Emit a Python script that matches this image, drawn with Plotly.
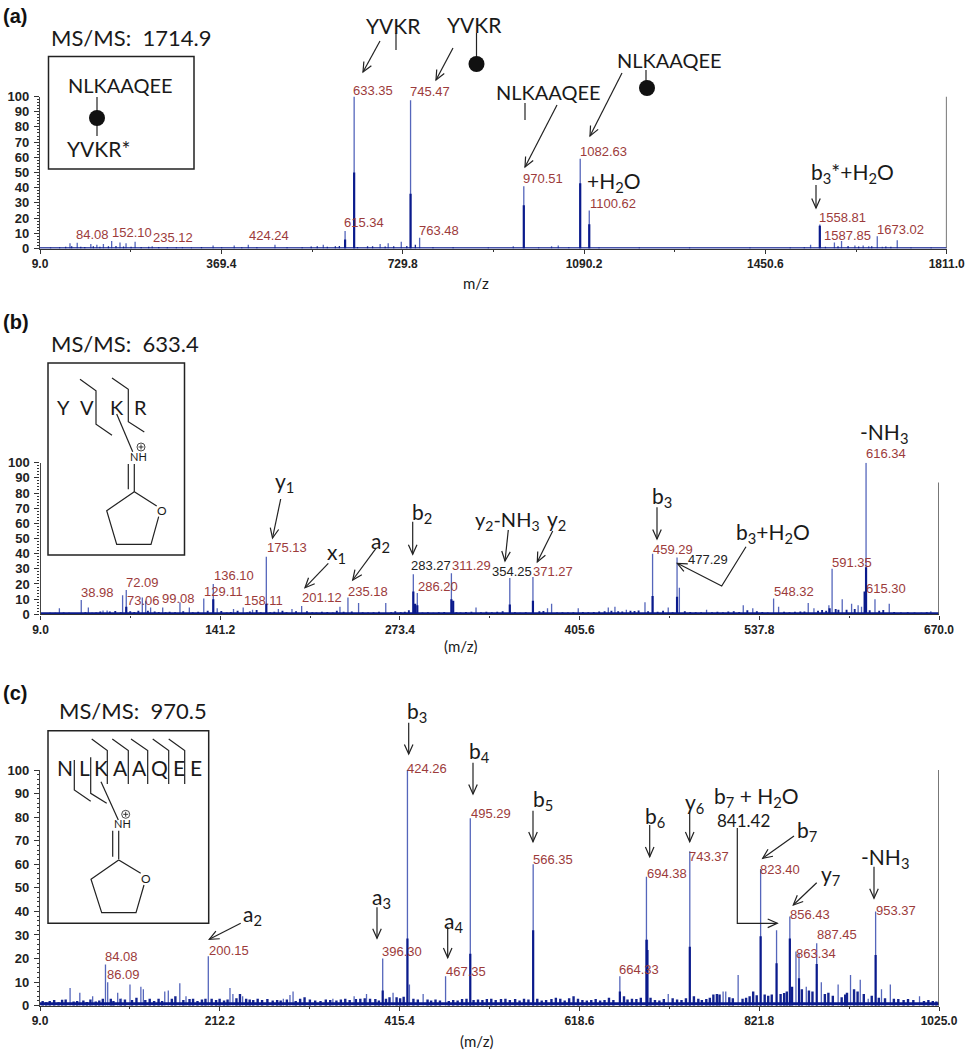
import plotly.graph_objects as go

W, H = 967, 1050

# ---------- panel (a) data ----------
a_mz = [68.6, 83.0, 110, 122, 135, 151.4, 168, 180, 198, 232, 292, 353, 395, 423, 476, 572, 615.34, 633.35, 685, 701, 727, 745.47, 763.48,
        949.6, 970.51, 1025.7, 1039, 1060, 1082.63, 1100.62, 1540.5, 1558.81, 1587.85, 1602, 1628.6, 1645, 1656, 1673.02, 1683, 1712.7]
a_int = [3.5, 3.8, 3, 2.5, 3, 5, 4, 3.5, 4.5, 1.5, 1, 2, 2, 2.5, 2.5, 2.5, 11.5, 100, 3, 3.5, 4.5, 97.5, 7,
         1.5, 41, 1.5, 2, 1, 59, 25, 2.5, 15.8, 4, 5, 2, 2, 1.5, 8, 1.2, 5.5]
a_core_mz = [615.34, 633.35, 745.47, 970.51, 1082.63, 1100.62, 1558.81]
a_core_int = [6, 50, 36, 28.5, 43, 16, 15]
a_grass_mz = [30, 48, 60, 72, 90, 98, 115, 128, 145, 160, 175, 190, 210, 225, 245, 262, 280, 310, 330, 370, 410, 440, 500, 530, 548, 560, 580,
              596, 604, 640, 660, 670, 695, 712, 738, 755, 790, 830, 900, 1000, 1120, 1200, 1300, 1420, 1500, 1528, 1570, 1595, 1615, 1636, 1662, 1690, 1700, 1740, 1780]
a_grass_int = [.6, .8, 1.2, 1.5, 1.2, 1, 1.4, 1.2, 1.5, 1.6, 1.3, 1.2, 1, 1.1, 1, .9, .8, .7, 1, .9, .8, .8, .8, .9, 1.3, 1.5, 1.2,
               1.4, 1.6, 1, 1.4, 1.5, 1.3, 1.5, 1.6, 2.5, .8, .8, .6, .7, .6, .6, .6, .6, .7, .9, 1.2, 1.5, 1.6, 1.3, 1.4, 1.3, 1.2, .7, .6]

# ---------- panel (b) data ----------
b_mz = [22.9, 38.98, 44.2, 55, 58, 69.4, 72.09, 83.9, 86.4, 90, 98.9, 111.6, 118.5, 129.11, 136.10, 139, 151, 158.11, 165, 175.13, 184, 194, 201.12,
        229.3, 235.18, 243, 263, 283.27, 286.20, 311.29, 329.4, 354.25, 371.27, 382, 385, 404.6, 426.7, 431.6, 440, 453.7, 459.29, 470.8, 477.29, 479,
        499, 526, 533, 548.32, 552, 573.8, 578, 589, 591.35, 598.8, 605.7, 610.5, 613, 616.34, 622.9, 633.4, 664]
b_int = [4, 9.5, 4.5, 2.5, 2.5, 12.5, 16, 11, 9, 4.5, 4.5, 8, 4.5, 10.5, 20, 4, 3.5, 4.5, 3, 38, 3.5, 3.5, 5.5,
         5, 11, 7.5, 7.5, 26.5, 14, 27, 4.5, 24, 24.6, 4, 7, 4, 4.5, 5, 3, 8, 40, 4.5, 37.4, 17.5,
         3, 6, 4, 10.5, 5, 7.5, 4, 6, 30, 10, 7, 6, 5, 100, 10, 7, 2]
b_core_mz = [72.09, 136.10, 175.13, 283.27, 284.6, 286.20, 311.29, 312.6, 354.25, 371.27, 459.29, 477.29, 589.5, 615.30, 616.34]
b_core_int = [5, 10, 7, 15, 7, 6, 10, 9, 6.5, 9, 12, 11.6, 4, 15, 31]
b_grass_mz = [12, 16, 20, 26, 30, 34, 42, 47, 50, 53, 60, 64, 68, 75, 78, 81, 88, 93, 96, 101, 104, 108, 114, 121, 125, 132, 142, 146, 149, 154, 161, 163, 168, 171,
              178, 181, 187, 190, 197, 205, 209, 212, 216, 220, 224, 227, 232, 238, 246, 250, 254, 258, 267, 270, 274, 277, 280, 290, 294, 298, 302, 306, 315, 318, 322, 326,
              333, 337, 341, 345, 349, 358, 362, 366, 376, 379, 389, 393, 397, 401, 408, 412, 416, 420, 424, 429, 434, 437, 443, 446, 449, 456, 463, 467, 474, 483, 487, 491,
              495, 503, 507, 511, 515, 519, 523, 529, 536, 540, 544, 556, 560, 564, 568, 571, 581, 584, 587, 594, 596, 602, 608, 619, 626, 629, 637, 642, 647, 652, 657, 661, 667]
b_grass_int = [.9, 1.1, 1, 1.2, 1, .9, 1.3, 1, 1.2, 1.8, 1.9, 2.2, 1.3, 2, 1.5, 2.4, 2.3, 1.8, 1.5, 1.4, 1.6, 1.3, 2, 1.4, 1.6, 2.4, 2.2, 1.2, 1.5, 2.4, 1.2, 1.8, 2.8, 1.4,
               1.3, 1.6, 2.3, 1.4, 2, 2, 1.4, 1.2, 1.6, 1.5, 1.2, 2.4, 1.6, 1.8, 1.4, 1.2, 1.3, 1.6, 1.4, 2, 1.3, 1.6, 2.6, 1.2, 1.3, 1.1, 1.3, 1.5, 1.4, 1.2, 1.5, 1.6,
               1.4, 1.6, 1.3, 1.6, 2, 1.4, 1.1, 1.3, 2, 2.2, 1.2, 1.3, 1.2, 1.4, 1.5, 1.4, 1.5, 1.8, 2, 2.4, 2, 1.9, 2.3, 2.2, 2.5, 2, 1.6, 2.4, 1.4, 2, 1.5, 1.3,
               1.4, 1.4, 1.6, 1.3, 1.8, 2, 1.5, 2.6, 2, 1.5, 1.2, 1.6, 1.4, 1.6, 1.8, 1.9, 2.4, 2.8, 2.4, 3.5, 3, 3, 3.5, 2.6, 2.4, 2.8, 1.5, 1.2, 1.3, 1.2, 1, 1.4, .9]

# ---------- panel (c) data ----------
c_mz = [43, 54, 68.5, 83, 85.5, 96.8, 101, 110.7, 123, 125.8, 150, 154, 167, 174, 199.2, 223.7, 227, 238, 284, 291.5, 295, 340, 364, 378, 396.30, 408, 424.26, 426.5, 442, 467.35, 495.29,
        566.35, 664.33, 694.38, 695.5, 719, 743.37, 781, 784, 798, 823.4, 841.42, 856.43, 863.34, 866.8, 875, 886.8, 892, 911, 925, 936, 945, 953.37, 960, 970, 1003]
c_int = [7.5, 5.5, 4, 17.5, 10, 5.5, 3, 9, 8, 7, 6, 6.5, 9.5, 4, 21, 7.5, 5, 4, 3, 4.5, 6, 3, 4, 5, 20, 5.5, 100, 9, 5, 12.5, 79.5,
         60, 12.5, 54.7, 28, 5, 65.5, 6, 6, 13, 58, 32, 37.8, 23, 22.5, 8, 26.5, 10, 9, 13, 11, 3, 40, 7, 9, 4]
c_core_mz = [396.30, 424.26, 495.29, 566.35, 664.33, 694.38, 695.5, 743.37, 823.4, 841.42, 856.43, 859, 866.8, 886.8, 953.37]
c_core_int = [6.5, 28.5, 22, 32, 6, 28, 23.6, 25, 29.5, 18, 28.5, 8, 11.6, 17.7, 21.5]
c_grass_mz = [12, 16, 20, 25, 30, 34, 38, 47, 51, 58, 62, 66, 72, 76, 80, 89, 92, 100, 105, 113, 118, 128, 133, 138, 143, 147, 158, 162, 171, 178, 182, 187, 192, 196,
              203, 208, 212, 217, 221, 231, 235, 242, 246, 250, 255, 260, 266, 272, 277, 281, 288, 298, 303, 308, 314, 320, 326, 332, 337, 344, 349, 354, 359, 366, 371, 376, 382, 388, 392, 400, 404,
              412, 416, 420, 431, 436, 447, 451, 456, 461, 471, 476, 481, 486, 491, 499, 504, 509, 514, 519, 524, 530, 535, 540, 546, 551, 556, 561, 571, 576, 581, 587, 592, 597, 602, 607, 612, 617, 622, 627, 632, 637, 642, 647, 652, 657, 669, 673, 678, 683, 688, 699, 704, 709, 714, 724, 729, 734, 739, 748, 753, 757, 762, 766, 770, 774, 777, 788, 792, 803, 807, 811, 815, 819, 828, 832, 836, 846, 850, 853, 870, 878, 882, 896, 900, 905, 915, 919, 921, 929, 933, 940, 949, 957, 964, 974, 979, 985, 990, 996, 1008, 1013, 1018, 1022]
c_grass_int = [2, 1.5, 2, 2.4, 1.5, 2.5, 2.6, 1.8, 2, 2.2, 1.6, 2.6, 1.8, 2.2, 3, 3, 2, 3, 2.6, 2.4, 3.4, 2.4, 3, 2, 3, 2, 3, 4, 2.4, 2.8, 3, 2, 2.6, 3,
              3, 2.4, 3, 2.2, 2.6, 3.2, 5, 3, 2.6, 2.4, 3, 2.4, 2.8, 2.2, 2.4, 2.2, 2.6, 2, 3, 3.6, 2.6, 2.2, 2, 2.6, 2.4, 2.2, 2.6, 3, 2.4, 2.8, 3, 3.2, 3, 2.8, 2.2, 3, 3.6,
              3.6, 3.2, 3.8, 3, 2.6, 2.6, 2.2, 2.6, 2.2, 2, 2.4, 2.2, 2.8, 3, 2.4, 2.6, 2.4, 2.8, 3, 2.4, 2.8, 3, 2.4, 2.8, 2.2, 3, 2.6, 3, 2.2, 2.4, 2.8, 3.4, 3, 2.2, 3.2, 4, 3, 2.4, 2.2, 2.4, 2.8, 2.2, 2.4, 3.4, 2.4, 4, 2.6, 3, 2.8, 3.4, 3.4, 2.4, 2.2, 2.8, 3.2, 2.6, 2.4, 3.2, 4, 3, 2.4, 2.8, 3.4, 4.8, 5, 4.8, 3.6, 3.2, 3, 3.4, 4, 6, 4.4, 4.8, 4.2, 4.8, 5, 5.4, 6, 7, 6.5, 6, 5, 5.5, 4.2, 3.6, 4.8, 5.5, 7, 6, 5, 4.2, 3.4, 3.2, 3, 2.8, 2.4, 2.8, 2.4, 2, 2.4, 2, 1.8, 2, 2.4, 1.6]

# ---------- tick labels ----------
a_ticks = [9.0, 369.4, 729.8, 1090.2, 1450.6, 1811.0]
a_minor = [189.2, 549.6, 910.0, 1270.4, 1630.8]
b_ticks = [9.0, 141.2, 273.4, 405.6, 537.8, 670.0]
b_minor = [75.1, 207.3, 339.5, 471.7, 603.9]
c_ticks = [9.0, 212.2, 415.4, 618.6, 821.8, 1025.0]
c_minor = [110.6, 313.8, 517.0, 720.2, 923.4]
a_tick_text = ["9.0", "369.4", "729.8", "1090.2", "1450.6", "1811.0"]
b_tick_text = ["9.0", "141.2", "273.4", "405.6", "537.8", "670.0"]
c_tick_text = ["9.0", "212.2", "415.4", "618.6", "821.8", "1025.0"]
y_ticks = [0, 10, 20, 30, 40, 50, 60, 70, 80, 90, 100]

# ---------- styling ----------
LIGHT = "#5566bb"
DARK = "#0a1a8c"
GRASS = "#14248f"
RED = "#9c3b3b"
INK = "#222222"
SANS = "Liberation Sans"
LABEL = "Lato"

def fx(px): return px / W
def fy(py): return 1 - py / H

def stems(xs, ys):
    ox, oy = [], []
    for x, y in zip(xs, ys):
        ox += [x, x, None]
        oy += [0, y, None]
    return ox, oy

fig = go.Figure()
shapes, anns = [], []

def panel(idx, left, right, top, bottom, xmax, mz, it, cmz, cit, gmz, git, ticks, ticktext, minor, base, rtop, gw, bw):
    sfx = "" if idx == 1 else str(idx)
    xa, ya = "x" + sfx, "y" + sfx
    x, y = stems(gmz, git)
    fig.add_trace(go.Scatter(x=x, y=y, mode="lines", line=dict(color=GRASS, width=gw), xaxis=xa, yaxis=ya, hoverinfo="skip"))
    x, y = stems(mz, it)
    fig.add_trace(go.Scatter(x=x, y=y, mode="lines", line=dict(color=LIGHT, width=1.3), xaxis=xa, yaxis=ya, hoverinfo="skip"))
    x, y = stems(cmz, cit)
    fig.add_trace(go.Scatter(x=x, y=y, mode="lines", line=dict(color=DARK, width=2.2), xaxis=xa, yaxis=ya, hoverinfo="skip"))
    fig.add_trace(go.Scatter(x=[9, xmax], y=[base, base], mode="lines", line=dict(color=DARK, width=bw), xaxis=xa, yaxis=ya, hoverinfo="skip"))
    fig.add_trace(go.Scatter(x=[xmax, xmax], y=[0, rtop], mode="lines", line=dict(color="#555555", width=1.6), xaxis=xa, yaxis=ya, hoverinfo="skip", cliponaxis=False))
    lay = {}
    lay["xaxis" + sfx] = dict(domain=[fx(left), fx(right)], range=[9, xmax], anchor=ya, tickmode="array", tickvals=ticks, ticktext=ticktext,
                              automargin=False, ticks="outside", ticklen=4, tickwidth=1.2, tickcolor="#333", showline=True, linecolor="#333", linewidth=1.4,
                              showgrid=False, zeroline=False,
                              tickfont=dict(family=SANS, size=12, color=INK, weight=700),
                              minor=dict(tickvals=minor, ticks="outside", ticklen=2, tickcolor="#333", showgrid=False))
    lay["yaxis" + sfx] = dict(domain=[fy(bottom), fy(top)], range=[0, 100], anchor=xa, tickmode="array", tickvals=y_ticks,
                              automargin=False, ticks="outside", ticklen=5, tickwidth=1.2, tickcolor="#333", showline=True, linecolor="#444", linewidth=1.4,
                              showgrid=False, zeroline=False, ticklabelstandoff=2,
                              tickfont=dict(family=SANS, size=13, color=INK, weight=700),
                              minor=dict(dtick=2, ticks="outside", ticklen=2, tickcolor="#333", showgrid=False))
    fig.update_layout(**lay)

panel(1, 40, 946.7, 96.5, 248.5, 1811, a_mz, a_int, a_core_mz, a_core_int, a_grass_mz, a_grass_int, a_ticks, a_tick_text, a_minor, 0.3, 100, 1.3, 1.6)
panel(2, 40.5, 939, 462.7, 614.3, 670, b_mz, b_int, b_core_mz, b_core_int, b_grass_mz, b_grass_int, b_ticks, b_tick_text, b_minor, 0.6, 87, 1.9, 2.2)
panel(3, 40, 939, 770, 1005.7, 1025, c_mz, c_int, c_core_mz, c_core_int, c_grass_mz, c_grass_int, c_ticks, c_tick_text, c_minor, 0.8, 100, 2.4, 3)

def text(t, x, y, size=20, color="#1a1a1a", family=LABEL, anchor="left"):
    anns.append(dict(text=t, x=fx(x), y=fy(y), xref="paper", yref="paper", xanchor=anchor, yanchor="middle",
                     showarrow=False, align="left", borderpad=0, font=dict(family=family, size=size, color=color)))

def poly(pts, width=1.2, color="#222222"):
    d = "M" + " L".join(f"{fx(x)*1:.6f},{fy(y):.6f}" for x, y in pts)
    shapes.append(dict(type="path", path=d, xref="paper", yref="paper", line=dict(color=color, width=width)))

def arrow(pts, width=1.2, size=10.5, spread=0.42):
    """polyline ending in an open V arrow head"""
    import math
    poly(pts, width)
    (x0, y0), (x1, y1) = pts[-2], pts[-1]
    a = math.atan2(y0 - y1, x0 - x1)
    b1 = (x1 + size * math.cos(a + spread), y1 + size * math.sin(a + spread))
    b2 = (x1 + size * math.cos(a - spread), y1 + size * math.sin(a - spread))
    poly([b1, (x1, y1), b2], width)

def rect(x0, y0, x1, y1):
    shapes.append(dict(type="rect", xref="paper", yref="paper", x0=fx(x0), x1=fx(x1), y0=fy(y1), y1=fy(y0), line=dict(color="#222", width=1.5)))

def dot(x, y, r=8):
    shapes.append(dict(type="circle", xref="paper", yref="paper", x0=fx(x - r), x1=fx(x + r), y0=fy(y + r), y1=fy(y - r),
                       fillcolor="#111", line=dict(color="#111", width=0)))

def plus(x, y, r=4):
    shapes.append(dict(type="circle", xref="paper", yref="paper", x0=fx(x - r), x1=fx(x + r), y0=fy(y + r), y1=fy(y - r), line=dict(color="#333", width=0.9)))
    poly([(x - 2.5, y), (x + 2.5, y)], 0.9)
    poly([(x, y - 2.5), (x, y + 2.5)], 0.9)

H2O = "H<sub>2</sub>O"
NH3 = "NH<sub>3</sub>"

# ----- panel (a) annotations -----
text("<b>(a)</b>", 2, 16, 20, "#111", SANS)
text("MS/MS:\u00a0\u00a01714.9", 50, 37, 22)
rect(48.5, 56.5, 194, 169)
text("NLKAAQEE", 67, 85, 20)
poly([(97, 97), (97, 136)]); dot(97, 118)
text("YVKR*", 66, 148, 21)
text("YVKR", 365, 25, 21); poly([(396, 33), (396, 50)]); arrow([(380, 41), (363, 72)])
text("YVKR", 446, 24, 21); poly([(476.5, 33), (476.5, 60)]); dot(476.5, 64); arrow([(453, 48), (436, 80)])
text("NLKAAQEE", 495, 92, 20); poly([(525, 103), (525, 120)]); arrow([(557, 105), (525, 167)])
text("NLKAAQEE", 616, 60, 20); poly([(646, 70), (646, 82)]); dot(647, 88); arrow([(622, 73), (590, 136)])
text("+" + H2O, 586, 182, 21)
text("b<sub>3</sub>*+" + H2O, 810, 173, 21); arrow([(816, 185), (816, 208)])
text("m/z", 462, 283, 15)
a_labels = ["633.35", "745.47", "84.08", "152.10", "235.12", "424.24", "615.34", "763.48", "970.51", "1082.63", "1100.62", "1558.81", "1587.85", "1673.02"]
a_lpos = [(352, 90), (409, 92), (75, 234), (111, 232), (152, 237), (248, 236), (343, 223), (418, 230), (522, 178), (579, 151), (589, 203), (818, 217), (823, 236), (876, 229)]
for t, (x, y) in zip(a_labels, a_lpos):
    text(t, x, y, 13, RED, SANS)

# ----- panel (b) annotations -----
text("<b>(b)</b>", 2, 322, 20, "#111", SANS)
text("MS/MS:\u00a0\u00a0633.4", 50, 343, 22)
rect(48, 363, 184.5, 555)
for t, x in zip(["Y", "V", "K", "R"], [63.3, 87, 117, 140.5]):
    text(t, x, 407, 20, anchor="center")
poly([(80, 379.3), (96, 390.7), (96, 424.3), (112, 435.3)])
poly([(112, 378), (128.3, 389.3), (128.3, 421.7), (144.3, 432)])
poly([(116.7, 414), (132.7, 451.7)])
text("NH", 138, 456, 11, anchor="center"); plus(141, 447)
poly([(128.3, 464), (128.3, 489.3)]); poly([(134.3, 464), (134.3, 491.7)])
poly([(156.7, 506), (134.3, 491.7), (106.7, 510.7), (116.7, 544.3), (151, 544.3), (158.7, 516.7)])
text("O", 161.7, 510, 12, anchor="center")
text("y<sub>1</sub>", 274, 481.7, 21); arrow([(280.7, 499), (272.5, 538)])
text("x<sub>1</sub>", 326, 553, 21); arrow([(328.3, 563.3), (305, 587.7)])
text("a<sub>2</sub>", 370, 541.7, 21); arrow([(376, 548.3), (352.7, 580)])
text("b<sub>2</sub>", 410.7, 512.7, 21); arrow([(412.7, 521.7), (412.7, 554.3)])
text("y<sub>2</sub>-" + NH3, 474, 520, 20); arrow([(508.3, 530), (505, 561)])
text("y<sub>2</sub>", 546, 520, 21); arrow([(552.7, 531), (537.3, 562)])
text("b<sub>3</sub>", 651, 496.7, 21); arrow([(657, 507.3), (657, 539)])
text("b<sub>3</sub>+" + H2O, 735, 533, 21); arrow([(746, 546.7), (721.7, 586), (677.3, 563.3)])
text("-" + NH3, 859, 433, 21)
text("(m/z)", 443, 646, 15)
b_labels = ["38.98", "72.09", "73.06", "99.08", "129.11", "136.10", "158.11", "175.13", "201.12", "235.18", "311.29", "286.20", "371.27", "459.29", "548.32", "591.35", "615.30", "616.34"]
b_lpos = [(80, 592.7), (125, 582.7), (125.5, 600), (161, 598.7), (203, 591.7), (213, 575.7), (243, 600), (266, 547.7), (300.5, 597.7), (346.5, 591.7), (451, 565.7), (417, 586.7), (532, 571.7), (652, 549), (773, 591.7), (831, 562.3), (865, 588.3), (865, 454)]
for t, (x, y) in zip(b_labels, b_lpos):
    text(t, x, y, 13, RED, SANS)
b_black = ["283.27", "354.25", "477.29"]
b_bpos = [(410, 565.7), (490.5, 571.7), (687, 559)]
for t, (x, y) in zip(b_black, b_bpos):
    text(t, x, y, 13, "#222", SANS)

# ----- panel (c) annotations -----
text("<b>(c)</b>", 2, 692.7, 20, "#111", SANS)
text("MS/MS:\u00a0\u00a0970.5", 58, 710.7, 22)
rect(48, 730.7, 208.7, 923.3)
for t, x in zip(list("NLKAAQEE"), [65, 84, 100.7, 120, 139.3, 159.3, 179.3, 196]):
    text(t, x, 767.7, 21, anchor="center")
for x0 in [(91.7, 107.3), (112.3, 128.3), (131, 147.7), (152.7, 168.7), (168.7, 184.7)]:
    poly([(x0[0], 739), (x0[1], 750.5), (x0[1], 784)])
poly([(74.3, 760), (74.3, 790), (90.7, 801.3)])
poly([(90.7, 757.3), (90.7, 793.3), (106.7, 803.3)])
poly([(101, 781.7), (118.3, 820)])
text("NH", 122.7, 823.5, 11, anchor="center"); plus(125.7, 814.3)
poly([(112.7, 830.7), (112.7, 856.7)]); poly([(118.7, 830.7), (118.7, 859)])
poly([(140.7, 873.3), (118.7, 860), (91, 879.3), (101.7, 912.7), (136, 912.7), (144, 885)])
text("O", 146, 878, 12, anchor="center")
text("b<sub>3</sub>", 406, 711.7, 21); arrow([(408.7, 722.7), (408.7, 754)])
text("b<sub>4</sub>", 468, 751.7, 21); arrow([(473, 762.7), (473, 794)])
text("a<sub>2</sub>", 242, 915, 21); arrow([(240.7, 923.3), (209.3, 939.3)])
text("a<sub>3</sub>", 371, 898.3, 21); arrow([(377, 907.3), (377, 938.3)])
text("a<sub>4</sub>", 443, 921.7, 21); arrow([(447.7, 926.7), (447.7, 957.7)])
text("b<sub>5</sub>", 531.7, 800, 21); arrow([(533, 810.7), (533, 841.7)])
text("b<sub>6</sub>", 644, 816.7, 21); arrow([(649.7, 825), (649.7, 856.7)])
text("y<sub>6</sub>", 684, 803.3, 21); arrow([(689.7, 810.7), (689.7, 841.7)])
text("b<sub>7</sub> + " + H2O, 713.3, 797, 21)
text("841.42", 715.7, 820, 17)
arrow([(737.3, 828), (737.3, 923.3), (777.3, 923.3)])
text("b<sub>7</sub>", 796, 831, 21); arrow([(794, 836), (762.7, 858.3)])
text("y<sub>7</sub>", 820, 875, 21); arrow([(816.7, 882.7), (793.3, 905)])
text("-" + NH3, 860, 858.3, 21); arrow([(874, 866.7), (874, 898.3)])
text("(m/z)", 459, 1040.7, 15)
c_labels = ["84.08", "86.09", "200.15", "396.30", "424.26", "467.35", "495.29", "566.35", "664.33", "694.38", "743.37", "823.40", "856.43", "887.45", "863.34", "953.37"]
c_lpos = [(104, 956.7), (106, 974), (207.7, 950), (381, 951), (406, 768.7), (444.7, 971.7), (469.5, 813.3), (532.3, 859.3), (618, 969.3), (645.7, 873.3), (688, 856.7), (759, 869.7), (788.7, 914), (815.7, 934), (795, 953.3), (875, 910)]
for t, (x, y) in zip(c_labels, c_lpos):
    text(t, x, y, 13, RED, SANS)

fig.update_layout(width=W, height=H, margin=dict(l=0, r=0, t=0, b=0, autoexpand=False), paper_bgcolor="white", plot_bgcolor="white",
                  showlegend=False, shapes=shapes, annotations=anns, font=dict(family=SANS))
fig.write_html("out.html", config=dict(displayModeBar=False), post_script="document.body.style.margin='0';document.body.style.overflow='hidden';")
